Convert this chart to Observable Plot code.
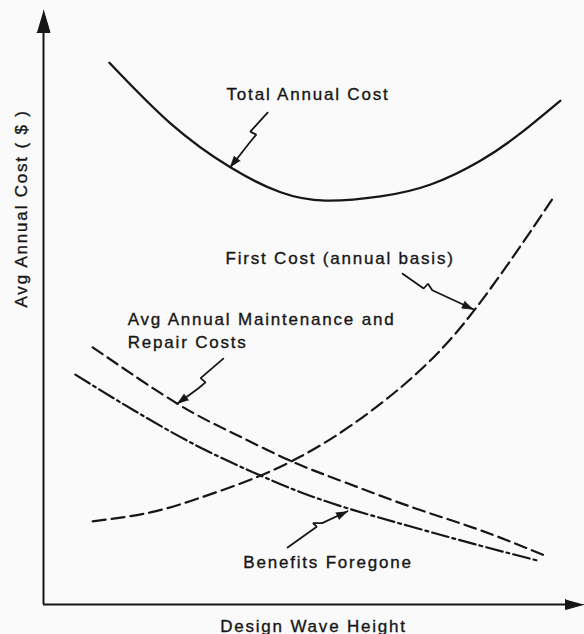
<!DOCTYPE html>
<html>
<head>
<meta charset="utf-8">
<script src="https://cdn.jsdelivr.net/npm/d3@7"></script>
<script src="https://cdn.jsdelivr.net/npm/@observablehq/plot@0.6"></script>
<style>
  body { margin: 0; background: #fafafa; }
  #chart svg { display: block; }
</style>
</head>
<body>
<div id="chart"></div>
<script>
// ---- Data (schematic units, 0–100 on both axes; no ticks in original) ----
const totalX = [12.2, 23.5, 34.6, 43.9, 52.2, 62.4, 71.7, 80.9, 88.3, 95.7];
const totalY = [91.2, 81.0, 73.6, 69.4, 68.0, 68.7, 70.7, 74.7, 79.3, 84.8];

const firstX = [9.1, 19.8, 29.1, 38.3, 47.6, 56.9, 66.1, 73.5, 80.0, 87.4, 94.4];
const firstY = [14.0, 15.5, 18.0, 21.0, 24.9, 30.1, 36.5, 42.8, 49.8, 59.1, 68.5];

const maintX = [9.1, 24.8, 35.2, 45.7, 56.3, 68.5, 80.9, 93.5];
const maintY = [43.3, 33.8, 28.8, 24.2, 20.4, 16.3, 12.5, 8.0];

const benefX = [5.9, 16.7, 29.1, 40.2, 47.6, 56.3, 68.5, 80.9, 91.5];
const benefY = [38.7, 32.7, 26.4, 21.7, 18.9, 16.2, 13.0, 9.9, 7.4];

// annotation labels
const labelText = ["Total Annual Cost", "First Cost (annual basis)", "Avg Annual Maintenance and", "Repair Costs", "Benefits Foregone"];
const labelX = [33.9, 33.7, 15.6, 15.6, 37.0];
const labelY = [85.0, 57.4, 47.0, 43.1, 6.1];

// leader "lightning" pointers (last point = arrow tip on the curve)
const pointerTotal = [[41.5, 82.8], [38.3, 79.6], [39.4, 79.1], [38.3, 77.9], [34.6, 73.6]];
const pointerFirst = [[66.5, 55.7], [70.4, 53.2], [71.2, 54.0], [72.0, 52.9], [79.6, 49.7]];
const pointerMaint = [[33.3, 41.4], [29.1, 38.1], [30.0, 37.4], [28.7, 36.4], [24.8, 33.8]];
const pointerBenef = [[45.2, 9.6], [50.6, 13.1], [49.9, 13.7], [51.6, 13.7], [56.3, 15.7]];

const xLabel = "Design Wave Height";
const yLabel = "Avg Annual Cost ( $ )";

// ---- Layout ----
const W = 584, H = 634, ML = 43, MR = 1, MT = 10, MB = 30;
const kx = (W - ML - MR) / 100, ky = (H - MT - MB) / 100;
const ink = "#161616";

const zip = (xs, ys) => xs.map((x, i) => ({x, y: ys[i]}));
const total = zip(totalX, totalY);
const first = zip(firstX, firstY);
const maint = zip(maintX, maintY);
const benef = zip(benefX, benefY);
const labels = labelText.map((t, i) => ({t, x: labelX[i], y: labelY[i]}));
const pointers = [pointerTotal, pointerFirst, pointerMaint, pointerBenef];

// filled arrowhead triangle, built in data space from tip + direction (pixel length/width)
function headTriangle(id, tip, from, len, halfW) {
  const dxp = (tip[0] - from[0]) * kx, dyp = -(tip[1] - from[1]) * ky;
  const n = Math.hypot(dxp, dyp), ux = dxp / n, uy = dyp / n;
  const bx = -ux * len, by = -uy * len;
  const px = -uy * halfW, py = ux * halfW;
  const toData = (ox, oy) => ({id, x: tip[0] + ox / kx, y: tip[1] - oy / ky});
  return [toData(0, 0), toData(bx + px, by + py), toData(bx - px, by - py)];
}
const heads = pointers.flatMap((p, i) => headTriangle("p" + i, p[p.length - 1], p[p.length - 2], 11, 3.8));
const axisHeads = [
  ...headTriangle("ay", [0, 100], [0, 0], 22, 6.5),
  ...headTriangle("ax", [100, 0], [0, 0], 18, 5)
];

const textStyle = {fontSize: 17, fill: ink, stroke: ink, strokeWidth: 0.35};

const chart = Plot.plot({
  width: W, height: H,
  marginLeft: ML, marginRight: MR, marginTop: MT, marginBottom: MB,
  x: {domain: [0, 100], axis: null},
  y: {domain: [0, 100], axis: null},
  style: {background: "#fafafa", fontFamily: "'Liberation Sans', Arial, sans-serif", letterSpacing: "1.8px", color: ink},
  marks: [
    // axes
    Plot.ruleX([0], {y1: 0, y2: 97, stroke: ink, strokeWidth: 2}),
    Plot.ruleY([0], {x1: 0, x2: 98, stroke: ink, strokeWidth: 2}),
    Plot.line(axisHeads, {x: "x", y: "y", z: "id", fill: ink, stroke: ink, strokeWidth: 1, strokeLinejoin: "miter"}),
    // curves
    Plot.line(total, {x: "x", y: "y", curve: "natural", stroke: ink, strokeWidth: 2.3}),
    Plot.line(first, {x: "x", y: "y", curve: "natural", stroke: ink, strokeWidth: 2.2, strokeDasharray: "13,6"}),
    Plot.line(maint, {x: "x", y: "y", curve: "natural", stroke: ink, strokeWidth: 2.2, strokeDasharray: "12,6"}),
    Plot.line(benef, {x: "x", y: "y", curve: "natural", stroke: ink, strokeWidth: 2.2, strokeDasharray: "17,4,3,4"}),
    // pointers
    ...pointers.map(p => Plot.line(p, {x: d => d[0], y: d => d[1], stroke: ink, strokeWidth: 1.8, strokeLinejoin: "miter"})),
    Plot.line(heads, {x: "x", y: "y", z: "id", fill: ink, stroke: ink, strokeWidth: 0.8, strokeLinejoin: "miter"}),
    // labels
    Plot.text(labels, {x: "x", y: "y", text: "t", textAnchor: "start", lineAnchor: "bottom", ...textStyle}),
    Plot.text([xLabel], {frameAnchor: "bottom", dy: 27, lineAnchor: "bottom", ...textStyle}),
    Plot.text([yLabel], {frameAnchor: "left", rotate: -90, dx: -17, lineAnchor: "bottom", ...textStyle})
  ]
});
document.getElementById("chart").append(chart);
</script>
</body>
</html>
